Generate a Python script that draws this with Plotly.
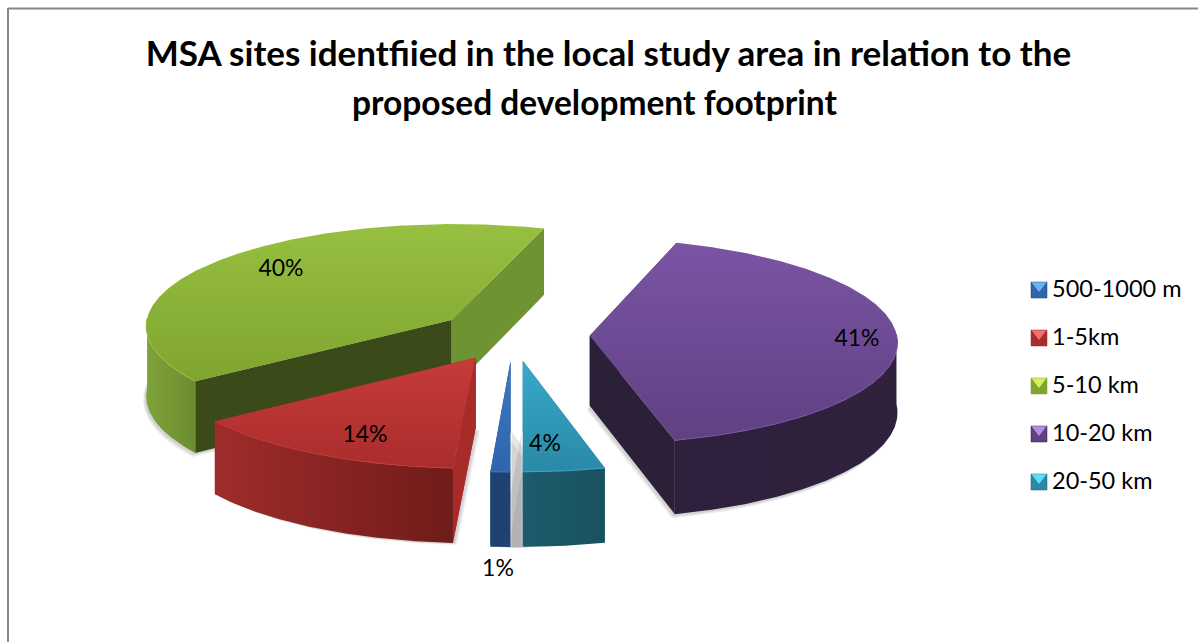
import numpy as np
import plotly.graph_objects as go

# Chart content
categories = ["500-1000 m", "1-5km", "5-10 km", "10-20 km", "20-50 km"]
shares = [1, 14, 40, 41, 4]
title_lines = [
    "MSA sites identfiied in the local study area in relation to the",
    "proposed development footprint",
]

# Face colours per category: top gradient (far, near), outer wall (left, right),
# cut at the slice's first edge, cut at its last edge
top_far = ["#3b78c4", "#c63b39", "#97bf40", "#7b54a4", "#37aacd"]
top_near = ["#2e66ac", "#a92d2c", "#7fa52f", "#5f4183", "#2a89a6"]
wall_left = ["#1f4272", "#9f2c2a", "#7fa33a", "#2e203c", "#1c5c6c"]
wall_right = ["#1f4272", "#6f1c1a", "#6c8c30", "#30213d", "#1a5160"]
cut_first = ["#1f4272", "#a62b29", "#3a4a18", "#2c1f38", "#1c5c6c"]
cut_last = ["#1f4272", "#8a2523", "#6f9232", "#2c1f38", "#1c5c6c"]
swatch_light = ["#6fb0ee", "#f0716e", "#d6ee62", "#b48ce0", "#62dcf5"]

# Projection of the tilted pie onto the page
CENTER_X, CENTER_Y = 513, 335
RADIUS_X, RADIUS_Y = 307, 102.5
PERSPECTIVE = 0.052
THICKNESS = 70
EXPLODE = 0.25
START_ANGLE = 180

# Placement of texts and other furniture
LABEL_XY = [(498, 570), (365, 436), (281, 270), (857, 340), (545, 445)]
LEGEND_X, LEGEND_TEXT_X, LEGEND_TOP, LEGEND_STEP = 1039, 1052, 290, 48
SHADOW_SHIFTS = [(18, 1), (4, 2), (-3, 4), (-3, 4), (-18, 1)]
BASE_FONT = "Lato, Carlito, sans-serif"
LABEL_FONT = dict(family=BASE_FONT, size=23, color="#000000")
LEGEND_FONT = dict(family=BASE_FONT, size=23.5, color="#000000")
TITLE_FONT = dict(family=BASE_FONT, size=35, color="#000000", weight="bold")
SUBLINE_FONT = dict(family=BASE_FONT, size=33.5, color="#000000", weight="bold")
WIDTH, HEIGHT = 1198, 642


def project(x, y, z=0.0):
    """Pie plane (x right, y away from the viewer, z depth below the top) to page pixels."""
    scale = 1 / (1 + PERSPECTIVE * y)
    return (CENTER_X + RADIUS_X * x * scale,
            CENTER_Y - RADIUS_Y * y * scale + THICKNESS * z * scale)


def polygon(fig, px, py, **style):
    fig.add_trace(go.Scatter(x=px, y=py, mode="lines", fill="toself", line=dict(width=0),
                             hoverinfo="skip", showlegend=False, **style))


def gradient(kind, first, second):
    return dict(type=kind, colorscale=[[0, first], [1, second]])


fig = go.Figure()

# Angular extent of each slice, clockwise from the top of the pie
edges = START_ANGLE + np.concatenate([[0], np.cumsum(shares)]) * 3.6
slices = []
for i, share in enumerate(shares):
    t = np.radians(np.arange(edges[i], edges[i + 1] + 0.25, 0.5))
    mid = np.radians((edges[i] + edges[i + 1]) / 2)
    ox, oy = EXPLODE * np.sin(mid), EXPLODE * np.cos(mid)
    slices.append((i, t, ox + np.sin(t), oy + np.cos(t), ox, oy))

# Soft shadows of the slice footprints sit under everything
for i, t, ax, ay, ox, oy in slices:
    bx, by = project(np.r_[ox, ax], np.r_[oy, ay], 1.0)
    sx, sy = SHADOW_SHIFTS[i]
    for frac, alpha in ((1.0, 0.10), (0.6, 0.13)):
        polygon(fig, bx + sx * frac, by + sy * frac, fillcolor=f"rgba(60,60,60,{alpha})")

# Slices from back to front: cut faces, outer wall, top face, rim highlight
for i in (2, 3, 1, 4, 0):
    _, t, ax, ay, ox, oy = slices[i]

    # The cut whose outer edge lies further away goes down first
    cuts = sorted(((0, cut_first[i]), (-1, cut_last[i])), key=lambda c: -ay[c[0]])
    for k, colour in cuts:
        fx = np.array([ox, ax[k], ax[k], ox])
        fy = np.array([oy, ay[k], ay[k], oy])
        fz = np.array([0.0, 0.0, 1.0, 1.0])
        px, py = project(fx, fy, fz)
        polygon(fig, px, py, fillcolor=colour)

    front = np.cos(t) <= 0.02
    if front.any():
        tx, ty = project(ax[front], ay[front], 0.0)
        bx, by = project(ax[front], ay[front], 1.0)
        polygon(fig, np.r_[tx, bx[::-1]], np.r_[ty, by[::-1]],
                fillgradient=gradient("horizontal", wall_left[i], wall_right[i]))

    # The near-edge cut of a slice whose wall stops short stays in front of that wall
    if i == 1:
        fx = np.array([ox, ax[0], ax[0], ox])
        fy = np.array([oy, ay[0], ay[0], oy])
        px, py = project(fx, fy, np.array([0.0, 0.0, 1.0, 1.0]))
        polygon(fig, px, py, fillcolor=cut_first[i])

    px, py = project(np.r_[ox, ax], np.r_[oy, ay])
    polygon(fig, px, py, name=categories[i],
            fillgradient=gradient("vertical", top_near[i], top_far[i]))

    if front.any():
        tx, ty = project(ax[front], ay[front], 0.0)
        fig.add_trace(go.Scatter(x=tx, y=ty, mode="lines", hoverinfo="skip", showlegend=False,
                                 line=dict(color=top_far[i], width=1)))

# Percentage labels
for share, (lx, ly) in zip(shares, LABEL_XY):
    fig.add_trace(go.Scatter(x=[lx], y=[ly], mode="text", text=[f"{share}%"],
                             textposition="middle center", textfont=LABEL_FONT,
                             hoverinfo="skip", showlegend=False))

# Legend keys with their bevelled swatches
for i, name in enumerate(categories):
    ly = LEGEND_TOP + i * LEGEND_STEP
    fig.add_trace(go.Scatter(x=[LEGEND_X], y=[ly], mode="markers", hoverinfo="skip", showlegend=False,
                             marker=dict(symbol="square", size=16, color=top_near[i],
                                         line=dict(width=0.5, color=wall_left[i]))))
    fig.add_trace(go.Scatter(x=[LEGEND_X], y=[ly - 4.5], mode="markers", hoverinfo="skip", showlegend=False,
                             marker=dict(symbol="triangle-down", size=13, color=swatch_light[i],
                                         line=dict(width=0))))
    fig.add_trace(go.Scatter(x=[LEGEND_TEXT_X], y=[ly + 1], mode="text", text=[name],
                             textposition="middle right", textfont=LEGEND_FONT,
                             hoverinfo="skip", showlegend=False))

# Chart frame runs off the right and bottom of the page
fig.add_shape(type="line", x0=8, x1=WIDTH, y0=8.5, y1=8.5, line=dict(color="#868686", width=2))
fig.add_shape(type="line", x0=8, x1=8, y0=8, y1=HEIGHT, line=dict(color="#868686", width=2))

# The two title lines are centred on slightly different axes
fig.add_annotation(text=title_lines[1], x=594.5, y=102, xref="x", yref="y", showarrow=False,
                   xanchor="center", yanchor="middle", font=SUBLINE_FONT)

fig.update_layout(
    width=WIDTH, height=HEIGHT, autosize=False,
    margin=dict(l=0, r=0, t=0, b=0),
    paper_bgcolor="#ffffff", plot_bgcolor="#ffffff",
    showlegend=False,
    title=dict(text=title_lines[0], x=608.5 / WIDTH, xanchor="center",
               y=1 - 54 / HEIGHT, yanchor="middle", font=TITLE_FONT),
    xaxis=dict(range=[0, WIDTH], visible=False, fixedrange=True),
    yaxis=dict(range=[HEIGHT, 0], visible=False, fixedrange=True),
)

fig.write_html("out.html")
